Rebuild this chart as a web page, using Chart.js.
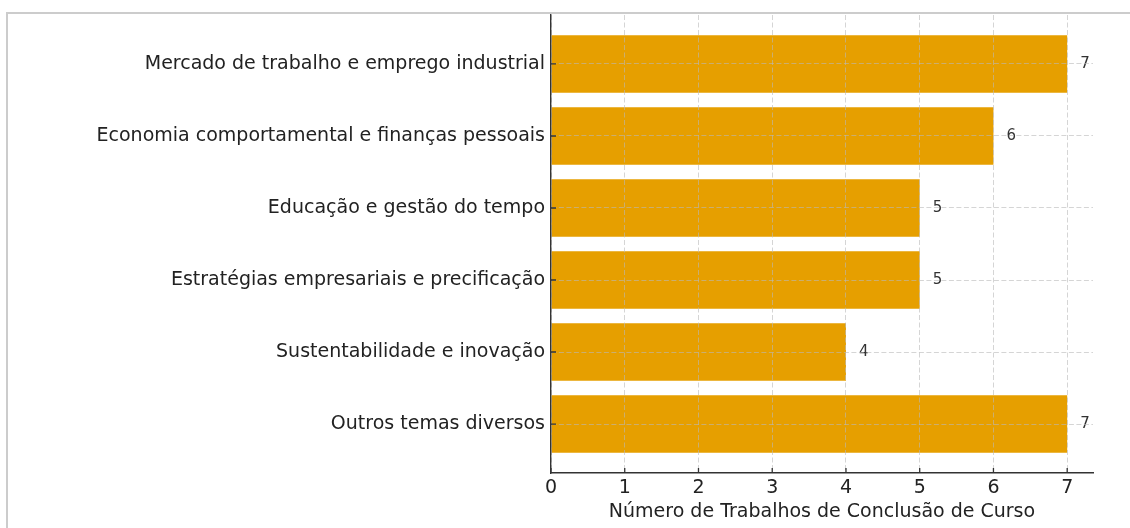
<!DOCTYPE html>
<html lang="pt">
<head>
<meta charset="utf-8">
<title>Trabalhos de Conclusão de Curso por tema</title>
<script src="https://cdn.jsdelivr.net/npm/chart.js@4.4.1/dist/chart.umd.min.js"></script>
<style>
  body { margin: 0; background: #fff; }
  #wrap { position: relative; width: 1130px; height: 528px; }
  #frame {
    position: absolute; left: 6px; top: 12px; right: 0; bottom: 0;
    border-top: 2px solid #cccccc; border-left: 2px solid #cccccc;
    pointer-events: none;
  }
</style>
</head>
<body>
<div id="wrap">
  <div id="frame"></div>
  <canvas id="chart"></canvas>
</div>
<script>
const temas = [
  "Mercado de trabalho e emprego industrial",
  "Economia comportamental e finanças pessoais",
  "Educação e gestão do tempo",
  "Estratégias empresariais e precificação",
  "Sustentabilidade e inovação",
  "Outros temas diversos",
];
const trabalhos = [7, 6, 5, 5, 4, 7];
const xTitle = "Número de Trabalhos de Conclusão de Curso";

const barColor = "#E69F00";
const textColor = "#222222";
const axisColor = "#333333";
const gridColor = "rgba(185, 185, 185, 0.6)";

Chart.defaults.font.family = "'DejaVu Sans', sans-serif";
Chart.defaults.color = textColor;

// valor escrito ao lado de cada barra
const valueLabels = {
  id: "valueLabels",
  afterDatasetsDraw(chart) {
    const ctx = chart.ctx;
    const meta = chart.getDatasetMeta(0);
    ctx.save();
    ctx.font = "15px 'DejaVu Sans'";
    ctx.fillStyle = "#333333";
    ctx.textAlign = "left";
    ctx.textBaseline = "middle";
    meta.data.forEach((bar, i) => {
      ctx.fillText(String(trabalhos[i]), bar.x + 13, bar.y);
    });
    ctx.restore();
  },
};

// ticks para dentro, como no matplotlib
const innerTicks = {
  id: "innerTicks",
  afterDraw(chart) {
    const ctx = chart.ctx;
    const { x, y } = chart.scales;
    const area = chart.chartArea;
    ctx.save();
    ctx.strokeStyle = axisColor;
    ctx.lineWidth = 1.3;
    ctx.beginPath();
    x.ticks.forEach((t) => {
      const px = x.getPixelForValue(t.value);
      ctx.moveTo(px, area.bottom);
      ctx.lineTo(px, area.bottom - 5);
    });
    y.ticks.forEach((t) => {
      const py = y.getPixelForValue(t.value);
      ctx.moveTo(area.left, py);
      ctx.lineTo(area.left + 5, py);
    });
    ctx.stroke();
    ctx.restore();
  },
};

const chart = new Chart(document.getElementById("chart"), {
  type: "bar",
  data: {
    datasets: [
      {
        data: trabalhos.map((v, i) => ({ x: v, y: i })),
        backgroundColor: barColor,
        borderWidth: 0,
        barPercentage: 0.8,
        categoryPercentage: 1,
      },
    ],
  },
  options: {
    indexAxis: "y",
    responsive: true,
    maintainAspectRatio: false,
    animation: false,
    layout: { padding: { top: 15, right: 37, left: 0, bottom: 0 } },
    plugins: {
      legend: { display: false },
      tooltip: { enabled: false },
    },
    scales: {
      x: {
        type: "linear",
        min: 0,
        max: 7.35,
        ticks: {
          stepSize: 1,
          includeBounds: false,
          padding: 4,
          font: { size: 19 },
          color: textColor,
        },
        grid: {
          color: gridColor,
          drawTicks: false,
          z: 1,
        },
        border: { display: true, color: axisColor, width: 1.4, dash: [5, 2.5], z: 2 },
        title: {
          display: true,
          text: xTitle,
          font: { size: 19 },
          color: textColor,
          padding: { top: 2, bottom: 5 },
        },
        afterFit(scale) {
          scale.height = 55;
          scale.paddingLeft = 0;
          scale.paddingRight = 0;
        },
      },
      y: {
        type: "linear",
        reverse: true,
        offset: false,
        min: -0.68,
        max: 5.68,
        ticks: {
          stepSize: 1,
          includeBounds: false,
          autoSkip: false,
          padding: 6,
          font: { size: 19 },
          color: textColor,
          callback: (v) => (Number.isInteger(v) ? temas[v] : ""),
        },
        grid: {
          color: gridColor,
          offset: false,
          drawTicks: false,
          z: 1,
        },
        border: { display: true, color: axisColor, width: 1.4, dash: [5, 2.5], z: 2 },
        afterFit(scale) {
          scale.width = 551;
          scale.paddingTop = 0;
          scale.paddingBottom = 0;
        },
      },
    },
  },
  plugins: [valueLabels, innerTicks],
});
</script>
</body>
</html>
